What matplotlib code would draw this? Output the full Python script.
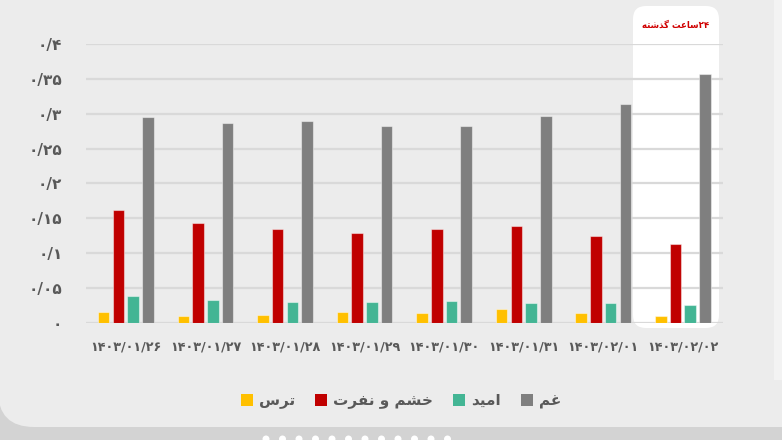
import matplotlib.pyplot as plt
from matplotlib.patches import FancyBboxPatch, Rectangle, Patch, Circle
from matplotlib.transforms import IdentityTransform
import numpy as np

# data (values per day)
dates = ["۱۴۰۳/۰۱/۲۶", "۱۴۰۳/۰۱/۲۷", "۱۴۰۳/۰۱/۲۸", "۱۴۰۳/۰۱/۲۹",
         "۱۴۰۳/۰۱/۳۰", "۱۴۰۳/۰۱/۳۱", "۱۴۰۳/۰۲/۰۱", "۱۴۰۳/۰۲/۰۲"]
fear = [0.016, 0.010, 0.011, 0.015, 0.014, 0.019, 0.014, 0.010]
anger = [0.162, 0.143, 0.134, 0.129, 0.135, 0.139, 0.124, 0.113]
hope = [0.039, 0.032, 0.030, 0.030, 0.031, 0.028, 0.028, 0.026]
sad = [0.295, 0.286, 0.290, 0.282, 0.282, 0.297, 0.314, 0.357]
y_ticks = [0, 0.05, 0.1, 0.15, 0.2, 0.25, 0.3, 0.35, 0.4]
y_labels = ["۰", "۰/۰۵", "۰/۱", "۰/۱۵", "۰/۲", "۰/۲۵", "۰/۳", "۰/۳۵", "۰/۴"]

# tiny arabic shaper (matplotlib has no shaping): isolated, final, initial, medial
FORMS = {
    "ا": ("\uFE8D", "\uFE8E", None, None),
    "ت": ("\uFE95", "\uFE96", "\uFE97", "\uFE98"),
    "ر": ("\uFEAD", "\uFEAE", None, None),
    "س": ("\uFEB1", "\uFEB2", "\uFEB3", "\uFEB4"),
    "خ": ("\uFEA5", "\uFEA6", "\uFEA7", "\uFEA8"),
    "ش": ("\uFEB5", "\uFEB6", "\uFEB7", "\uFEB8"),
    "م": ("\uFEE1", "\uFEE2", "\uFEE3", "\uFEE4"),
    "و": ("\uFEED", "\uFEEE", None, None),
    "ن": ("\uFEE5", "\uFEE6", "\uFEE7", "\uFEE8"),
    "ف": ("\uFED1", "\uFED2", "\uFED3", "\uFED4"),
    "ی": ("\uFBFC", "\uFBFD", "\uFBFE", "\uFBFF"),
    "د": ("\uFEA9", "\uFEAA", None, None),
    "غ": ("\uFECD", "\uFECE", "\uFECF", "\uFED0"),
    "ع": ("\uFEC9", "\uFECA", "\uFECB", "\uFECC"),
    "گ": ("\uFB92", "\uFB93", "\uFB94", "\uFB95"),
    "ذ": ("\uFEAB", "\uFEAC", None, None),
    "ه": ("\uFEE9", "\uFEEA", "\uFEEB", "\uFEEC"),
}


def shape(word):
    out = []
    for i, ch in enumerate(word):
        if ch not in FORMS:
            out.append(ch)
            continue
        prev = word[i - 1] if i > 0 else ""
        nxt = word[i + 1] if i + 1 < len(word) else ""
        jp = prev in FORMS and FORMS[prev][2] is not None
        jn = FORMS[ch][2] is not None and nxt in FORMS
        iso, fin, ini, med = FORMS[ch]
        if jp and jn:
            out.append(med)
        elif jp:
            out.append(fin)
        elif jn:
            out.append(ini)
        else:
            out.append(iso)
    return "".join(reversed(out))


names = ["ترس", "خشم و نفرت", "امید", "غم"]
colors = ["#ffc000", "#c00000", "#43b594", "#7f7f7f"]

plt.rcParams["font.family"] = ["DejaVu Sans"]
fig = plt.figure(figsize=(7.82, 4.4), dpi=100)
fig.patch.set_facecolor("#d3d3d3")

# card background and highlight box (pixel coords)
card = FancyBboxPatch((-2, 13), 900, 500, boxstyle="round,pad=0,rounding_size=36",
                      transform=IdentityTransform(), facecolor="#ececec", edgecolor="none", zorder=-3)
fig.add_artist(card)
fig.add_artist(Rectangle((774, 60), 10, 400, transform=IdentityTransform(),
                         facecolor="#f3f3f3", edgecolor="none", zorder=-2))
box = FancyBboxPatch((633, 112), 86, 322, boxstyle="round,pad=0,rounding_size=13",
                     transform=IdentityTransform(), facecolor="white", edgecolor="none", zorder=-1)
fig.add_artist(box)
for k in range(12):
    fig.add_artist(Circle((266 + k * 16.5, 1), 3.5, transform=IdentityTransform(),
                          facecolor="white", edgecolor="none", zorder=-1))

ax = fig.add_axes([86 / 782, 117.3 / 440, 636.7 / 782, 278.7 / 440])
ax.set_facecolor("none")

x = np.arange(len(dates))
w = 0.145
step = 0.185
for i, (vals, c) in enumerate(zip([fear, anger, hope, sad], colors)):
    ax.bar(x + (i - 1.5) * step, vals, width=w, color=c,
           edgecolor=(1, 1, 1, 0.45), linewidth=0.8, zorder=3)

ax.set_xlim(-0.5, 7.5)
ax.set_ylim(0, 0.4)
ax.set_yticks(y_ticks)
ax.set_yticklabels(y_labels, fontsize=11, fontweight="bold", color="#595959")
ax.set_xticks(x)
ax.set_xticklabels(dates, fontsize=9.2, fontweight="bold", color="#595959")
ax.tick_params(length=0)
ax.tick_params(axis="y", pad=17)
ax.tick_params(axis="x", pad=13)
ax.grid(axis="y", color="#d9d9d9", linewidth=1.6, zorder=0)
for s in ax.spines.values():
    s.set_visible(False)

fig.text(676 / 782, (440 - 25) / 440, shape("ساعت گذشته") + "۲۴", ha="center", va="center",
         fontsize=6.2, fontweight="bold", color="#d00000")

handles = [Patch(facecolor=c, edgecolor="none") for c in colors]
fig.legend(handles, [shape(n) for n in names], loc="center", ncol=4,
           bbox_to_anchor=(401 / 782, (440 - 401) / 440), frameon=False,
           prop={"size": 11, "weight": "bold"}, labelcolor="#595959",
           handlelength=0.8, handleheight=0.8, handletextpad=0.4, columnspacing=1.3)

fig.savefig("out.png", dpi=100)
